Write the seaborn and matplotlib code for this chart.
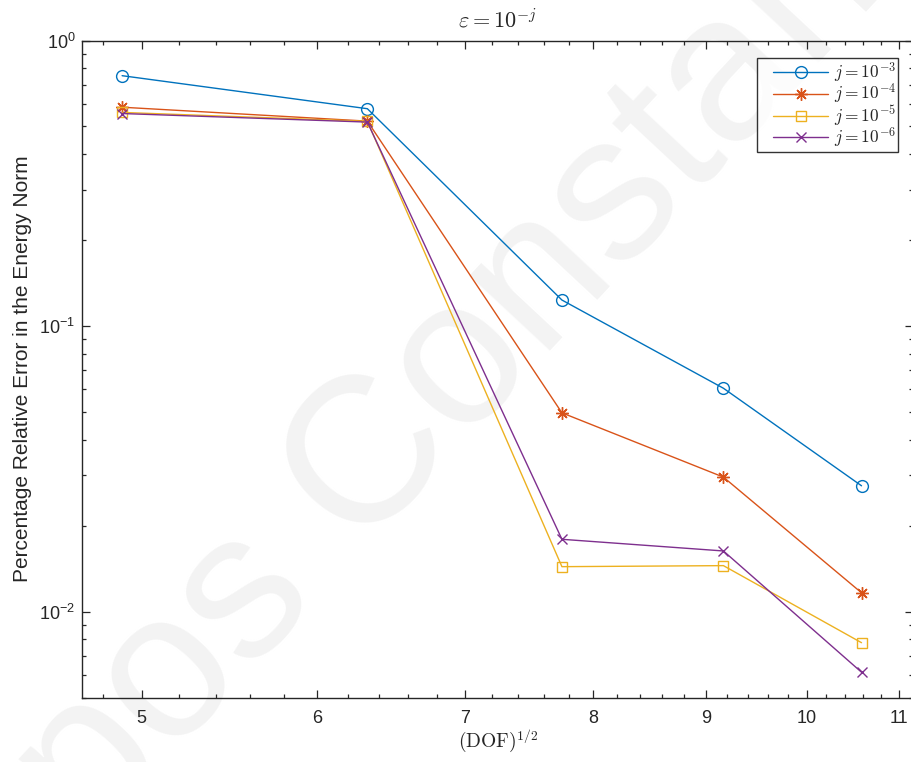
import numpy as np
import pandas as pd
import matplotlib
matplotlib.use("Agg")
import matplotlib.pyplot as plt
import seaborn as sns
from matplotlib.lines import Line2D
from matplotlib.legend_handler import HandlerLine2D
from matplotlib.ticker import FixedLocator, FixedFormatter, NullFormatter, LogLocator

# Square root of the degrees of freedom for each refinement level
sqrt_dof = [4.899, 6.325, 7.746, 9.165, 10.583]

# Percentage relative error in the energy norm, one list per epsilon
err_j3 = [0.753, 0.577, 0.1234, 0.0606, 0.0276]
err_j4 = [0.584, 0.522, 0.0497, 0.0296, 0.01165]
err_j5 = [0.560, 0.521, 0.01438, 0.0145, 0.00779]
err_j6 = [0.555, 0.518, 0.01793, 0.01632, 0.00614]

series_labels = [r"$j = 10^{-3}$", r"$j = 10^{-4}$", r"$j = 10^{-5}$", r"$j = 10^{-6}$"]

x_ticks = [5, 6, 7, 8, 9, 10, 11]
x_tick_labels = ["5", "6", "7", "8", "9", "10", "11"]
y_ticks = [1e-2, 1e-1, 1e0]
y_tick_labels = [r"$\mathregular{10^{-2}}$", r"$\mathregular{10^{-1}}$", r"$\mathregular{10^{0}}$"]

colors = ["#0072BD", "#D95319", "#EDB120", "#7E2F8E"]
markers = ["o", (8, 2, 0), "s", "x"]
marker_sizes = [8.5, 9.0, 6.5, 7.5]

sns.set_theme(style="white")
plt.rcParams["font.family"] = ["Liberation Sans", "DejaVu Sans"]
plt.rcParams["mathtext.fontset"] = "cm"

ink = "#262626"

fig = plt.figure(figsize=(9.12, 7.62), dpi=100)
ax = fig.add_axes([82.3 / 912, 1 - 697.7 / 762, (913 - 82.3) / 912, (697.7 - 40.5) / 762])

# faint background lettering
ax.text(0.515, 0.53, "pos Constant", transform=fig.transFigure, rotation=47,
        fontsize=150, color="#f3f3f3", ha="center", va="center",
        zorder=0.5, clip_on=False, family="Liberation Sans")

frame = pd.DataFrame({
    "x": sqrt_dof * 4,
    "err": err_j3 + err_j4 + err_j5 + err_j6,
    "series": sum([[lab] * len(sqrt_dof) for lab in series_labels], []),
})

for lab, c, m, ms in zip(series_labels, colors, markers, marker_sizes):
    sub = frame[frame["series"] == lab]
    sns.lineplot(data=sub, x="x", y="err", color=c, marker=m, markersize=ms,
                 markerfacecolor="none", markeredgecolor=c, markeredgewidth=1.0,
                 linewidth=1.0, label=lab, ax=ax, zorder=3)

ax.set_xscale("log")
ax.set_yscale("log")
ax.set_xlim(4.7, 11.166)
ax.set_ylim(0.005, 1.0)

ax.xaxis.set_major_locator(FixedLocator(x_ticks))
ax.xaxis.set_major_formatter(FixedFormatter(x_tick_labels))
minor_x = [v for v in np.round(np.arange(4.8, 11.01, 0.2), 1) if v not in x_ticks]
ax.xaxis.set_minor_locator(FixedLocator(minor_x))
ax.xaxis.set_minor_formatter(NullFormatter())

ax.yaxis.set_major_locator(FixedLocator(y_ticks))
ax.yaxis.set_major_formatter(FixedFormatter(y_tick_labels))
ax.yaxis.set_minor_locator(LogLocator(base=10, subs=np.arange(2, 10), numticks=20))
ax.yaxis.set_minor_formatter(NullFormatter())

ax.tick_params(which="both", direction="in", bottom=True, left=True, top=True, right=True,
               color=ink, labelcolor=ink, labelsize=13)
ax.tick_params(which="major", length=5.8, width=0.9)
ax.tick_params(which="minor", length=2.9, width=0.9)
ax.tick_params(axis="x", pad=9)
ax.tick_params(axis="y", pad=5)
for sp in ax.spines.values():
    sp.set_color(ink)
    sp.set_linewidth(1.0)
    sp.set_visible(True)
# the right edge of the box falls just past the figure border
ax.spines["right"].set_visible(False)

ax.set_title(r"$\varepsilon = 10^{-j}$", fontsize=16, color=ink, pad=9)
ax.set_xlabel(r"$(\mathrm{DOF})^{1/2}$", fontsize=14, color=ink, labelpad=0)
ax.set_ylabel("Percentage Relative Error in the Energy Norm", fontsize=15, color=ink, labelpad=5)

leg = ax.legend(loc="upper right", bbox_to_anchor=(1 - 15 / 831, 1 - 17.5 / 657),
                fontsize=12.5, frameon=True, fancybox=False, edgecolor="black",
                handlelength=4.0, labelspacing=-0.14, borderpad=0.13, handletextpad=0.3,
                borderaxespad=0, handler_map={Line2D: HandlerLine2D(xpad=0.8)})
leg.get_frame().set_linewidth(1.0)
leg.set_zorder(5)

fig.savefig("out.png", dpi=100, facecolor="white")
